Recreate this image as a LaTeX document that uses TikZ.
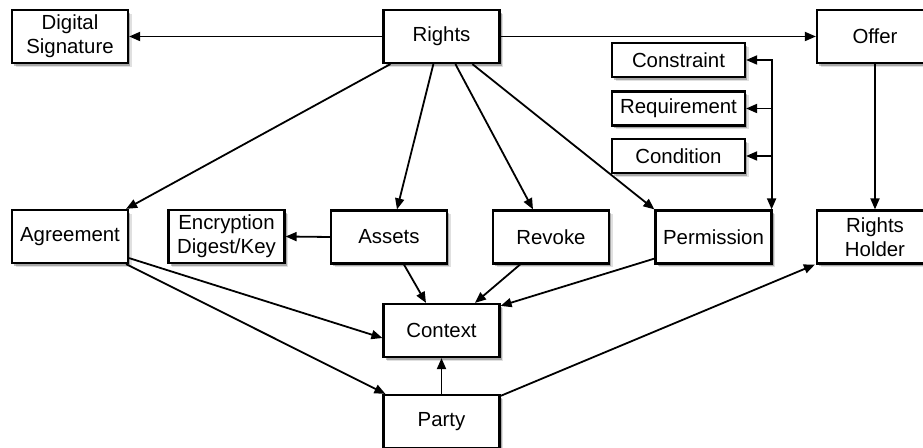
\documentclass[tikz,border=0pt]{standalone}
\usepackage{fontspec}
\setmainfont{Liberation Sans}
\usetikzlibrary{arrows.meta,shadows,calc}
\begin{document}
\begin{tikzpicture}[x=0.5pt,y=-0.5pt,
  shadowed/.style={
    drop shadow={shadow xshift=1.8pt,shadow yshift=-2pt,opacity=0.12,fill=black},
    drop shadow={shadow xshift=1.1pt,shadow yshift=-1.3pt,opacity=0.25,fill=black}},
  box/.style={draw=black,line width=1.1pt,fill=white,shadowed,
    minimum width=58pt,minimum height=26.5pt,inner sep=0pt,align=center,
    font=\fontsize{10.2}{12}\selectfont},
  smallbox/.style={box,minimum width=66.5pt,minimum height=17pt},
  conn/.style={line width=0.9pt,-{Triangle[length=5.5pt,width=4.5pt]}},
  bothconn/.style={line width=0.9pt,{Triangle[length=5.5pt,width=4.5pt]}-{Triangle[length=5.5pt,width=4.5pt]}}]

\useasboundingbox (0,0) rectangle (923,448);
\clip (0,0) rectangle (923,448);

% top row
\node[box] (ds)     at (70,36.5)    {Digital\\Signature};
\node[box] (rights) at (441.5,36.5) {Rights};
\node[box] (offer)  at (875,36.5)   {Offer};

% qualifiers of a permission
\node[smallbox] (constraint)  at (678.5,60)    {Constraint};
\node[smallbox] (requirement) at (678.5,108.5) {Requirement};
\node[smallbox] (condition)   at (678.5,156)   {Condition};

% middle row
\node[box] (agreement)  at (70,236.5)    {Agreement};
\node[box] (encryption) at (226.5,236.5) {Encryption\\Digest/Key};
\node[box] (assets)     at (389,237)     {Assets};
\node[box] (revoke)     at (551,237)     {Revoke};
\node[box] (permission) at (713.5,237)   {Permission};
\node[box] (holder)     at (875,237)     {Rights\\Holder};

% bottom
\node[box] (context) at (441.5,330.5) {Context};
\node[box] (party)   at (441.5,421.5) {Party};

% from Rights
\draw[conn] (rights.west) -- (ds.east);
\draw[conn] (rights.east) -- (offer.west);
\draw[conn] ($(rights.south west)+(8,0)$)  -- ($(agreement.north east)+(-3,0)$);
\draw[conn] ($(rights.south west)+(51,0)$) -- ($(assets.north)+(8,0)$);
\draw[conn] ($(rights.south west)+(73,0)$) -- ($(revoke.north)+(-18,0)$);
\draw[conn] ($(rights.south west)+(90,0)$) -- (permission.north west);

% offer to holder
\draw[conn] (offer.south) -- (holder.north);

% permission qualifiers
\coordinate (pk) at ($(permission.north east)+(-1,0)$);
\draw[bothconn] (constraint.east) -| (pk);
\draw[conn] (pk |- requirement.east) -- (requirement.east);
\draw[conn] (pk |- condition.east) -- (condition.east);

% assets to encryption
\draw[conn] (assets.west) -- (encryption.east);

% into Context
\draw[conn] ($(assets.south)+(15,0)$) -- ($(context.north)+(-15.5,0)$);
\draw[conn] ($(revoke.south)+(-31,0)$) -- ($(context.north)+(33.5,0)$);
\draw[conn] ($(permission.south west)+(0,-6)$) -- ($(context.north east)+(0,3)$);
\draw[conn] ($(agreement.south east)+(0,-6)$) -- ($(context.west)+(0,7.5)$);
\draw[conn] (party.north) -- (context.south);

% party links
\draw[conn] ($(agreement.south east)+(-3,0)$) -- ($(party.north west)+(3,0)$);
\draw[conn] ($(party.north east)+(0,2)$) -- ($(holder.south west)+(-1,0)$);

\end{tikzpicture}
\end{document}
